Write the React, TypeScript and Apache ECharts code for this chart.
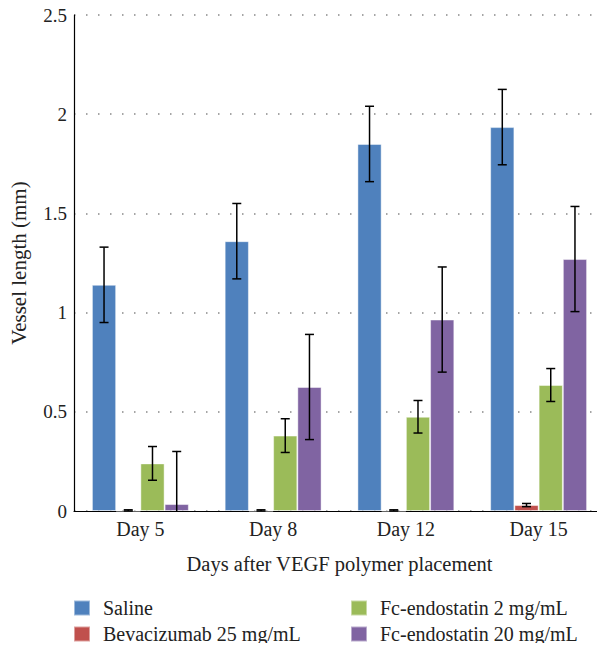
import React, { useEffect, useRef } from "react";
import * as echarts from "echarts";

const categories = ["Day 5", "Day 8", "Day 12", "Day 15"];
const seriesNames = [
  "Saline",
  "Bevacizumab 25 mg/mL",
  "Fc-endostatin 2 mg/mL",
  "Fc-endostatin 20 mg/mL",
];
const saline = [1.14, 1.36, 1.85, 1.935];
const bevacizumab = [0, 0, 0, 0.03];
const fcEndo2 = [0.24, 0.38, 0.475, 0.635];
const fcEndo20 = [0.035, 0.625, 0.965, 1.27];

const salineErr = [0.19, 0.19, 0.19, 0.19];
const bevacizumabErr = [0.006, 0.006, 0.006, 0.008];
const fcEndo2Err = [0.085, 0.085, 0.082, 0.083];
const fcEndo20Err = [0.265, 0.265, 0.265, 0.265];

const yTicks = ["0", "0.5", "1", "1.5", "2", "2.5"];
const colors = ["#4F81BD", "#C0504D", "#9BBB59", "#8064A2"];

const FONT = "'Liberation Serif', 'DejaVu Serif', serif";

export default function App() {
  const ref = useRef<HTMLDivElement>(null);
  useEffect(() => {
    if (!ref.current) return;
    const chart = echarts.init(ref.current, undefined, { renderer: "svg" });
    const values = [saline, bevacizumab, fcEndo2, fcEndo20];
    const errs = [salineErr, bevacizumabErr, fcEndo2Err, fcEndo20Err];
    const gapRatio = 0.27;
    const errData: number[][] = [];
    values.forEach((vals, s) => {
      vals.forEach((v, c) => {
        errData.push([c, Math.max(0, v - errs[s][c]), v + errs[s][c], s]);
      });
    });
    const bars = values.map((vals, s) => ({
      name: seriesNames[s],
      type: "bar",
      data: vals,
      barGap: "0%",
      barCategoryGap: "27%",
      itemStyle: {
        color: colors[s],
        borderColor: "rgba(255,255,255,0.45)",
        borderWidth: 1,
      },
    }));
    const legendText = {
      fontFamily: FONT,
      fontSize: 20,
      lineHeight: 16,
      color: "#222",
      padding: [0, 0, 0, 8],
    };
    const legendCommon = {
      orient: "vertical",
      bottom: 7,
      height: 60,
      padding: 0,
      itemWidth: 16,
      itemHeight: 15,
      itemGap: 6,
      icon: "rect",
      textStyle: legendText,
    };
    chart.setOption({
      animation: false,
      color: colors,
      textStyle: { fontFamily: FONT },
      grid: { left: 73, right: 0, top: 15, bottom: 140 },
      legend: [
        { ...legendCommon, data: [seriesNames[0], seriesNames[1]], left: 73 },
        { ...legendCommon, data: [seriesNames[2], seriesNames[3]], left: 350 },
      ],
      xAxis: {
        type: "category",
        data: categories,
        name: "Days after VEGF polymer placement",
        nameLocation: "middle",
        nameGap: 42,
        nameTextStyle: { fontFamily: FONT, fontSize: 20.5, color: "#222" },
        axisLine: { lineStyle: { color: "#000", width: 1.2 } },
        axisTick: { show: false },
        axisLabel: { fontFamily: FONT, fontSize: 20, color: "#222", margin: 8 },
      },
      yAxis: {
        type: "value",
        min: 0,
        max: 2.5,
        interval: 0.5,
        name: "Vessel length (mm)",
        nameLocation: "middle",
        nameGap: 45,
        nameTextStyle: { fontFamily: FONT, fontSize: 21, color: "#222" },
        axisLine: { show: true, lineStyle: { color: "#000", width: 1.2 } },
        axisTick: { show: false },
        axisLabel: {
          fontFamily: FONT,
          fontSize: 19,
          color: "#222",
          margin: 7,
          formatter: (v: number) => yTicks[Math.round(v / 0.5)] ?? String(v),
        },
        splitLine: {
          lineStyle: { color: "#888", type: [1.5, 10.5], width: 1.5 },
        },
      },
      series: [
        ...bars,
        {
          type: "custom",
          name: "errors",
          data: errData,
          z: 10,
          renderItem: (params: any, api: any) => {
            const c = api.value(0);
            const lo = api.value(1);
            const hi = api.value(2);
            const s = api.value(3);
            const catW = api.size([1, 0])[0];
            const barW = (catW * (1 - gapRatio)) / 4;
            const center = api.coord([c, 0])[0];
            const x = center + (s - 1.5) * barW;
            const yLo = api.coord([c, lo])[1];
            const yHi = api.coord([c, hi])[1];
            const cap = 4.5;
            const style = { stroke: "#000", lineWidth: 1.5 };
            return {
              type: "group",
              children: [
                { type: "line", shape: { x1: x, y1: yLo, x2: x, y2: yHi }, style },
                { type: "line", shape: { x1: x - cap, y1: yHi, x2: x + cap, y2: yHi }, style },
                ...(lo > 0 || hi < 0.05
                  ? [{ type: "line", shape: { x1: x - cap, y1: yLo, x2: x + cap, y2: yLo }, style }]
                  : []),
              ],
            };
          },
        },
      ],
    });
    return () => chart.dispose();
  }, []);
  return <div ref={ref} style={{ width: 605, height: 651, margin: -8 }} />;
}
